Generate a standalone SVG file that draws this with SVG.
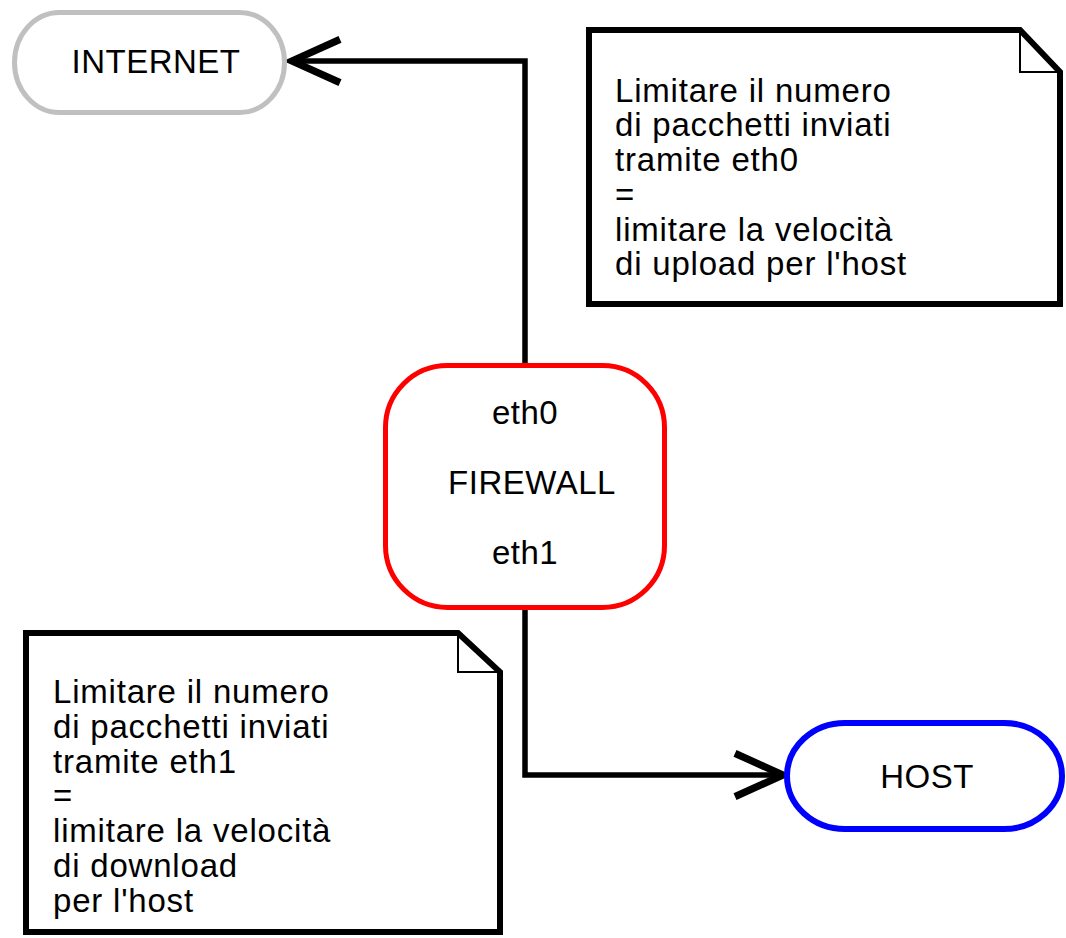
<svg xmlns="http://www.w3.org/2000/svg" width="1066" height="938" viewBox="0 0 1066 938">
<style>
text{font-family:"Liberation Sans",Arial,sans-serif;font-size:33px;fill:#000;letter-spacing:0.5px}
.c{text-anchor:middle}
.n{letter-spacing:0.8px}
.note{fill:#fff;stroke:#000;stroke-width:6;stroke-linejoin:miter}
.fold{fill:none;stroke:#000;stroke-width:2}
.conn{fill:none;stroke:#000;stroke-width:5.5;stroke-linejoin:miter}
</style>
<defs>
<marker id="chev" markerUnits="userSpaceOnUse" markerWidth="60" markerHeight="60" viewBox="-45 -25 50 50" refX="0" refY="0" orient="auto" overflow="visible">
<path d="M-40 -18 L0 0 L-40 18" fill="none" stroke="#000" stroke-width="6"/>
</marker>
</defs>
<rect width="1066" height="938" fill="#fff"/>
<g id="connectors">
<path class="conn" d="M525 365 V61 H292" marker-end="url(#chev)"/>
<path class="conn" d="M525 608 V775 H783" marker-end="url(#chev)"/>
</g>
<g id="internet">
<rect x="14.5" y="12.5" width="270" height="100" rx="45" ry="50" fill="#fff" stroke="#c0c0c0" stroke-width="5"/>
<text class="c" x="156" y="73">INTERNET</text>
</g>
<g id="firewall">
<rect x="385.5" y="365.5" width="279" height="242" rx="62" ry="62" fill="#fff" stroke="#f00" stroke-width="5"/>
<text class="c" x="525" y="424">eth0</text>
<text class="c" x="532" y="494">FIREWALL</text>
<text class="c" x="525" y="564">eth1</text>
</g>
<g id="host">
<rect x="787" y="723" width="275" height="106" rx="58" ry="53" fill="#fff" stroke="#00f" stroke-width="6"/>
<text class="c" x="927" y="788">HOST</text>
</g>
<g id="note-upload">
<path class="note" d="M589 30 H1020 L1060 72 V304 H589 Z"/>
<path class="fold" d="M1020 30 V72 H1060"/>
<text class="n" x="615" y="101.7">Limitare il numero</text>
<text class="n" x="615" y="136.4">di pacchetti inviati</text>
<text class="n" x="615" y="171">tramite eth0</text>
<text class="n" x="615" y="205.8">=</text>
<text class="n" x="615" y="240.5">limitare la velocità</text>
<text class="n" x="615" y="275.2">di upload per l'host</text>
</g>
<g id="note-download">
<path class="note" d="M26 633 H458 L500 672 V932 H26 Z"/>
<path class="fold" d="M458 633 V672 H500"/>
<text class="n" x="53" y="703">Limitare il numero</text>
<text class="n" x="53" y="737.8">di pacchetti inviati</text>
<text class="n" x="53" y="772.5">tramite eth1</text>
<text class="n" x="53" y="807.3">=</text>
<text class="n" x="53" y="842">limitare la velocità</text>
<text class="n" x="53" y="876.8">di download</text>
<text class="n" x="53" y="911.5">per l'host</text>
</g>
</svg>
